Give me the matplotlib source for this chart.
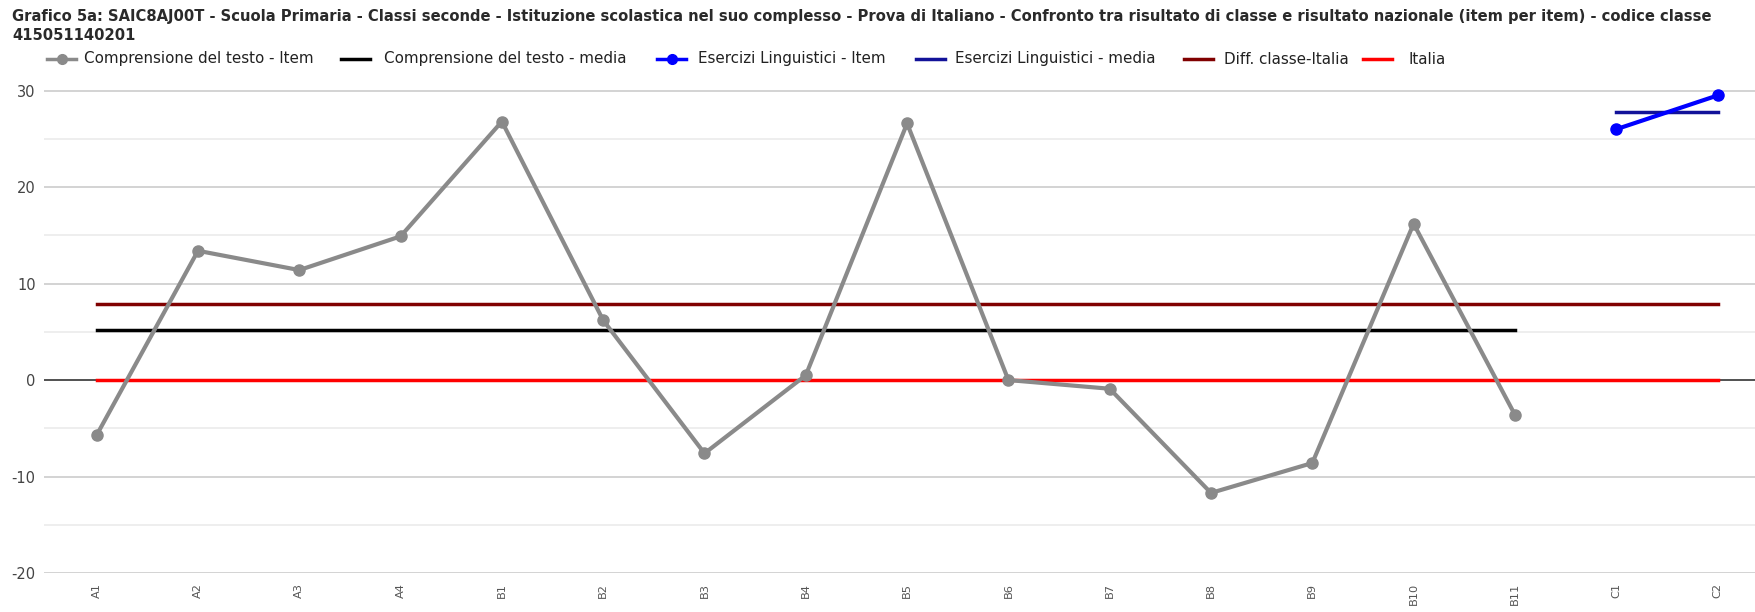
import numpy as np
import matplotlib
matplotlib.use("Agg")
import matplotlib.pyplot as plt
from matplotlib.lines import Line2D

plt.rcParams['font.family'] = ['DejaVu Sans']
plt.rcParams['axes.unicode_minus'] = False

# data
items = ["A1", "A2", "A3", "A4", "B1", "B2", "B3", "B4", "B5", "B6",
         "B7", "B8", "B9", "B10", "B11", "C1", "C2"]
comp_items = ["A1", "A2", "A3", "A4", "B1", "B2", "B3", "B4", "B5", "B6",
              "B7", "B8", "B9", "B10", "B11"]
comp_values = [-5.7, 13.4, 11.4, 14.9, 26.8, 6.2, -7.6, 0.5, 26.6, 0.0,
               -0.9, -11.7, -8.6, 16.2, -3.6]
eserc_items = ["C1", "C2"]
eserc_values = [26.0, 29.5]
comp_media = 5.2
eserc_media = 27.8
diff_classe_italia = 7.85
italia = 0.0

title = ("Grafico 5a: SAIC8AJ00T - Scuola Primaria - Classi seconde - Istituzione scolastica nel suo complesso "
         "- Prova di Italiano - Confronto tra risultato di classe e risultato nazionale (item per item) - codice classe\n"
         "415051140201")

c_gray = "#8a8a8a"
c_blue = "#0000ff"
c_navy = "#121299"
c_dark = "#800000"
c_red = "#ff0000"

W, H = 1755, 612
fig = plt.figure(figsize=(W / 100, H / 100), dpi=100)
ax = fig.add_axes([44 / W, 1 - 573 / H, 1 - 44 / W, (573 - 81) / H])

x = np.arange(len(items))
pos = {k: i for i, k in enumerate(items)}
xc = [pos[k] for k in comp_items]
xe = [pos[k] for k in eserc_items]

# grid
for v in range(-20, 35, 5):
    if v == 0:
        continue
    ax.axhline(v, color="#cccccc" if v % 10 == 0 else "#ebebeb", lw=1.2, zorder=0)
ax.axhline(0, color="#333333", lw=1.2, zorder=1)

ax.plot([x[0], x[-1]], [italia, italia], color=c_red, lw=2.5, zorder=2)
ax.plot([x[0], x[-1]], [diff_classe_italia] * 2, color=c_dark, lw=2.5, zorder=2)
ax.plot([xc[0], xc[-1]], [comp_media] * 2, color="black", lw=2.5, zorder=2)
ax.plot([xe[0], xe[-1]], [eserc_media] * 2, color=c_navy, lw=2.5, zorder=2)
ax.plot(xc, comp_values, color=c_gray, lw=3, marker="o", ms=8, zorder=3)
ax.plot(xe, eserc_values, color=c_blue, lw=3, marker="o", ms=8, zorder=3)

ax.set_xlim(-0.52, 16.37)
ax.set_ylim(-20, 31)
ax.set_yticks([-20, -10, 0, 10, 20, 30])
ax.set_xticks(x)
ax.set_xticklabels(items, rotation=90, fontsize=8.2, color="#555555")
ax.tick_params(axis="y", labelsize=10.5, colors="#444444", length=0, pad=6)
ax.tick_params(axis="x", length=0, pad=7)
for s in ax.spines.values():
    s.set_visible(False)

fig.text(12 / W, 1 - 26 / H, title, fontsize=10.65, fontweight="bold", color="#2a2a2a",
         va="center", ha="left", linespacing=1.32)

# legend
legend = [
    (47, 84, c_gray, True, "Comprensione del testo - Item"),
    (341, 384, "black", False, "Comprensione del testo - media"),
    (657, 698, c_blue, True, "Esercizi Linguistici - Item"),
    (916, 955, c_navy, False, "Esercizi Linguistici - media"),
    (1184, 1224, c_dark, False, "Diff. classe-Italia"),
    (1363, 1409, c_red, False, "Italia"),
]
ly = 1 - 59 / H
for x0, tx, col, mk, lab in legend:
    fig.add_artist(Line2D([x0 / W, (x0 + 29) / W], [ly, ly], color=col, lw=2.5,
                          transform=fig.transFigure))
    if mk:
        fig.add_artist(Line2D([(x0 + 14.5) / W], [ly], color=col, marker="o", ms=7,
                              transform=fig.transFigure))
    fig.text(tx / W, ly, lab, fontsize=10.9, color="#222222", va="center", ha="left")

fig.savefig("out.png", dpi=100)
